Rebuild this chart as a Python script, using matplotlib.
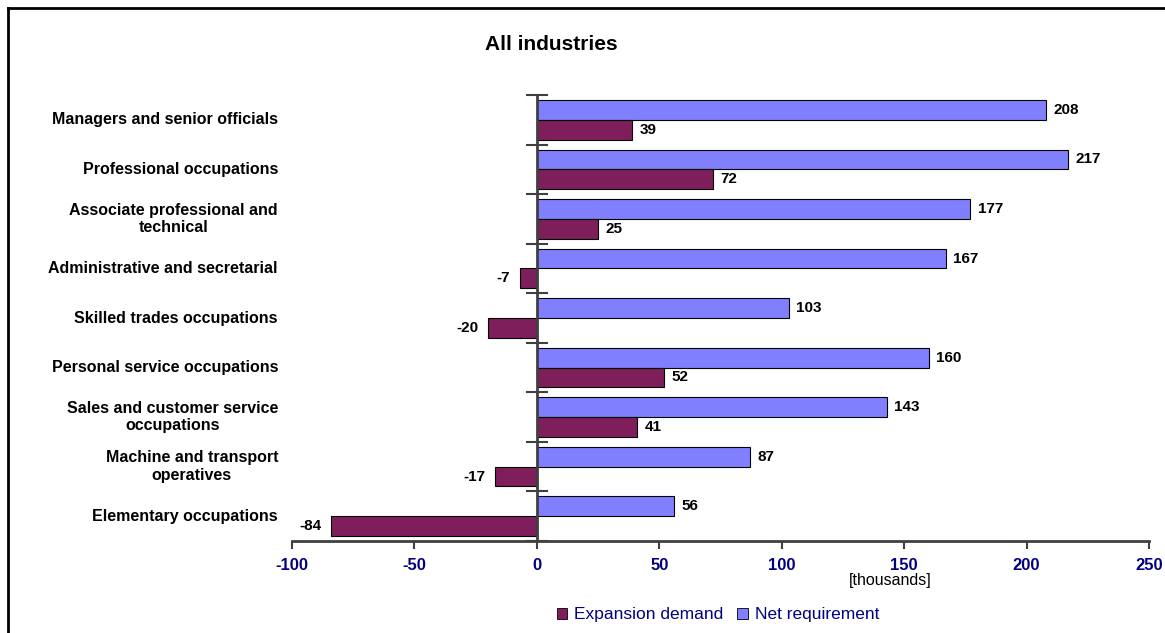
import numpy as np
import matplotlib.pyplot as plt
from matplotlib.lines import Line2D
from matplotlib.patches import Patch

plt.rcParams['font.family'] = ['Liberation Sans', 'DejaVu Sans']

# Datos
categorias = ['Managers and senior officials', 'Professional occupations',
              'Associate professional and\ntechnical', 'Administrative and secretarial',
              'Skilled trades occupations', 'Personal service occupations',
              'Sales and customer service\noccupations', 'Machine and transport\noperatives',
              'Elementary occupations']
net_requirement = [208, 217, 177, 167, 103, 160, 143, 87, 56]
expansion_demand = [39, 72, 25, -7, -20, 52, 41, -17, -84]
xticks = [-100, -50, 0, 50, 100, 150, 200, 250]

color_net = '#8080FF'
color_exp = '#7E1F5B'
navy = '#000080'
eje = '#404040'

fig = plt.figure(figsize=(11.65, 6.33), dpi=100)
ax = fig.add_axes([292 / 1165, 1 - 541 / 633, 857 / 1165, 446 / 633])

n = len(categorias)
y = np.arange(n)[::-1].astype(float)  # primera categoría arriba
h = 0.4

ax.barh(y + h / 2, net_requirement, height=h, color=color_net, edgecolor='black', linewidth=0.8)
ax.barh(y - h / 2, expansion_demand, height=h, color=color_exp, edgecolor='black', linewidth=0.8)

# Etiquetas de valores
for yi, v in zip(y, net_requirement):
    ax.text(v + 3, yi + h / 2, str(v), va='center', ha='left', fontsize=11, fontweight='bold')
for yi, v in zip(y, expansion_demand):
    if v >= 0:
        ax.text(v + 3, yi - h / 2, str(v), va='center', ha='left', fontsize=11, fontweight='bold')
    else:
        ax.text(v - 4, yi - h / 2, str(v), va='center', ha='right', fontsize=11, fontweight='bold')

ax.set_xlim(-100, 250)
ax.set_ylim(-0.5, n - 0.5)
ax.set_xticks(xticks)
ax.set_xticklabels([str(t) for t in xticks], color=navy, fontsize=12, fontweight='bold')
ax.tick_params(axis='x', length=6, width=1.5, color=eje, pad=6)
ax.set_yticks([])

for s in ['top', 'right', 'left']:
    ax.spines[s].set_visible(False)
ax.spines['bottom'].set_color(eje)
ax.spines['bottom'].set_linewidth(2)

# Eje vertical en x=0 con marcas cruzadas
ax.axvline(0, color=eje, linewidth=2, zorder=3)
for b in np.arange(n + 1) - 0.5:
    ax.plot([-4, 4], [b, b], color=eje, linewidth=1.5, zorder=3, clip_on=False)

# Etiquetas de categorías
for yi, c in zip(y, categorias):
    fig.text(278 / 1165, ax.transData.transform((0, yi))[1] / fig.bbox.height, c,
             ha='right', va='center', multialignment='center', fontsize=11.5,
             fontweight='bold')

fig.text(551 / 1165, 1 - 45 / 633, 'All industries', ha='center', va='center',
         fontsize=15, fontweight='bold')
fig.text(890 / 1165, 1 - 580 / 633, '[thousands]', ha='center', va='center', fontsize=11.5)

handles = [Patch(facecolor=color_exp, edgecolor='black', linewidth=0.6),
           Patch(facecolor=color_net, edgecolor='black', linewidth=0.6)]
leg = fig.legend(handles, ['Expansion demand', 'Net requirement'], loc='center',
                 bbox_to_anchor=(718 / 1165, 1 - 615 / 633), ncol=2, frameon=False,
                 fontsize=12.5, handlelength=0.6, handleheight=0.6, handletextpad=0.4,
                 columnspacing=0.8)
for t in leg.get_texts():
    t.set_color(navy)

# Marco exterior
fig.add_artist(Line2D([8 / 1165, 8 / 1165], [0, 1 - 8 / 633], transform=fig.transFigure,
                      color='black', linewidth=2))
fig.add_artist(Line2D([8 / 1165, 1], [1 - 8 / 633, 1 - 8 / 633], transform=fig.transFigure,
                      color='black', linewidth=2))

fig.savefig('out.png', dpi=100)
